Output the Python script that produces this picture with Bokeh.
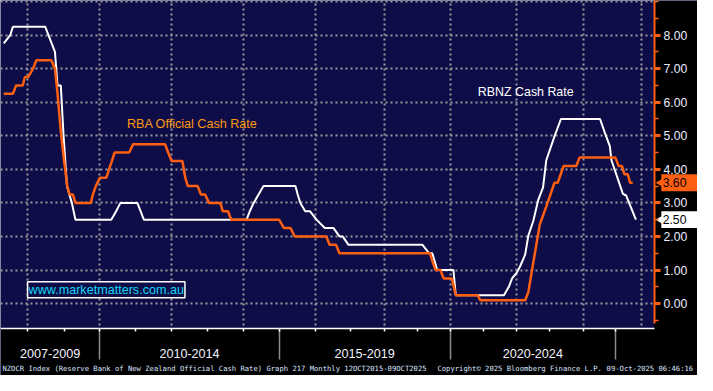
import math
from bokeh.plotting import figure
from bokeh.models import FixedTicker, Label, Range1d, PrintfTickFormatter, BoxAnnotation
from bokeh.embed import file_html
from bokeh.resources import INLINE

# ---------------- data (decimal years on the chart's time axis, rates in %) ----------------
rbnz_t = [2007.094, 2007.284, 2007.361, 2008.298, 2008.582, 2008.656, 2008.752, 2008.832, 2008.931,
          2009.073, 2009.178, 2010.218, 2010.360, 2010.485, 2010.976, 2011.166, 2014.149, 2014.242,
          2014.356, 2014.498, 2014.640, 2015.569, 2015.634, 2015.711, 2015.853, 2015.995, 2016.182,
          2016.421, 2016.676, 2016.847, 2016.940, 2017.111, 2019.261, 2019.448, 2019.545, 2019.687,
          2020.159, 2020.226, 2021.627, 2021.769, 2021.863, 2022.005, 2022.101, 2022.243, 2022.337,
          2022.479, 2022.621, 2022.763, 2022.856, 2023.095, 2023.283, 2024.419, 2024.561, 2024.703,
          2024.751, 2025.083, 2025.177, 2025.461]
rbnz_v = [7.75, 8.00, 8.25, 8.25, 7.50, 6.50, 6.50, 5.00, 3.50, 3.00, 2.50, 2.50, 2.75, 3.00, 3.00,
          2.50, 2.50, 2.75, 3.00, 3.25, 3.50, 3.50, 3.25, 3.00, 2.75, 2.75, 2.50, 2.25, 2.25, 2.00,
          2.00, 1.75, 1.75, 1.50, 1.50, 1.00, 1.00, 0.25, 0.25, 0.50, 0.75, 0.93, 1.12, 1.46, 2.03,
          2.46, 3.08, 3.46, 4.27, 4.98, 5.50, 5.50, 5.08, 4.69, 4.27, 3.27, 3.22, 2.50]

rba_t = [2007.094, 2007.361, 2007.454, 2007.645, 2007.710, 2007.804, 2007.946, 2008.042, 2008.477,
         2008.582, 2008.656, 2008.752, 2008.846, 2008.940, 2009.008, 2009.102, 2009.178, 2009.621,
         2009.684, 2009.769, 2009.888, 2010.076, 2010.153, 2010.238, 2010.314, 2010.740, 2010.854,
         2011.780, 2011.871, 2011.970, 2012.283, 2012.368, 2012.444, 2012.728, 2012.822, 2012.944,
         2013.058, 2013.390, 2013.456, 2013.609, 2013.703, 2015.094, 2015.236, 2015.427, 2015.549,
         2016.466, 2016.563, 2016.750, 2016.847, 2019.477, 2019.553, 2019.638, 2019.781, 2019.874,
         2020.113, 2020.226, 2020.868, 2020.936, 2022.243, 2022.337, 2022.479, 2022.669, 2022.856,
         2023.095, 2023.189, 2023.360, 2023.729, 2023.822, 2024.865, 2024.958, 2025.055, 2025.128,
         2025.225, 2025.290, 2025.367]
rba_v = [6.25, 6.25, 6.50, 6.50, 6.75, 6.75, 7.00, 7.25, 7.25, 7.00, 6.27, 5.12, 4.27, 3.50, 3.25,
         3.25, 3.00, 3.00, 3.25, 3.50, 3.75, 3.75, 4.00, 4.25, 4.50, 4.50, 4.75, 4.75, 4.50, 4.25,
         4.25, 3.75, 3.50, 3.50, 3.25, 3.25, 3.00, 3.00, 2.75, 2.75, 2.50, 2.50, 2.25, 2.25, 2.00,
         2.00, 1.75, 1.75, 1.50, 1.50, 1.25, 1.00, 1.00, 0.75, 0.75, 0.25, 0.25, 0.10, 0.10, 0.35,
         1.22, 2.36, 2.89, 3.60, 3.60, 4.10, 4.10, 4.35, 4.35, 4.10, 4.10, 3.85, 3.85, 3.60, 3.60]

year_ticks = [2007.787, 2008.846, 2009.888, 2010.919, 2011.970, 2013.021, 2014.072, 2015.094,
              2016.145, 2017.182, 2018.162, 2019.127, 2020.064, 2021.030, 2021.996, 2022.961,
              2023.927, 2024.864]
grid_years = [2007.787, 2009.888, 2011.970, 2014.072, 2016.145, 2018.162, 2020.064, 2021.996,
              2023.927, 2025.631]
period_edges = [2007.0, 2009.888, 2015.094, 2020.064, 2024.864]
period_labels = ["2007-2009", "2010-2014", "2015-2019", "2020-2024"]
y_grid = [0, 1, 2, 3, 4, 5, 6, 7, 8, 9]
y_labelled = [0, 1, 2, 3, 4, 5, 6, 7, 8]
y_minor = [-0.5, 0.5, 1.5, 2.5, 3.5, 4.5, 5.5, 6.5, 7.5, 8.5, 9]

footer_left = "NZOCR Index (Reserve Bank of New Zealand Official Cash Rate) Graph 217 Monthly 12OCT2015-09OCT2025"
footer_mid = "Copyright\u00a9 2025 Bloomberg Finance L.P."
footer_right = "09-Oct-2025 06:46:16"

# ---------------- layout constants ----------------
X0, X1 = 2007.0, 2026.0         # plotted time window (value axis sits at X1)
Y0, Y1 = -0.74, 9.03            # plotted value window (time axis sits at Y0)
X_END, Y_END = 2027.25, -2.143  # canvas edges, room for the axis texts

NAVY = "#0f0d48"
ORANGE = "#ff5f10"
TXT = "#e8eeff"
FONT = "Liberation Sans"

p = figure(width=697, height=375,
           x_range=Range1d(X0, X_END), y_range=Range1d(Y_END, Y1),
           output_backend="svg", toolbar_location=None, y_axis_location="right",
           min_border_left=0, min_border_top=0, min_border_right=0, min_border_bottom=0,
           background_fill_color=NAVY, border_fill_color="black", outline_line_color=None)

# grids
p.xgrid.ticker = FixedTicker(ticks=grid_years)
p.ygrid.ticker = FixedTicker(ticks=y_grid)
for g in (p.xgrid[0], p.ygrid[0]):
    g.grid_line_color = "#9a9a9a"
    g.grid_line_width = 2
    g.grid_line_dash = "2 3"

# black margins (cover the grid outside the plotting window)
p.add_layout(BoxAnnotation(left=X1, fill_color="black", fill_alpha=1, line_color=None, level="underlay"))
p.add_layout(BoxAnnotation(top=Y0, fill_color="black", fill_alpha=1, line_color=None, level="underlay"))

# bottom axis (fixed at the bottom of the plotting window)
xa = p.xaxis[0]
xa.fixed_location = Y0
xa.bounds = (X0, X1)
xa.ticker = FixedTicker(ticks=period_edges[1:], minor_ticks=year_ticks)
xa.axis_line_color = "white"
xa.axis_line_width = 1.5
xa.major_tick_in = 0
xa.major_tick_out = 31
xa.major_tick_line_color = "#8c8c8c"
xa.major_tick_line_width = 1.5
xa.minor_tick_in = 0
xa.minor_tick_out = 3
xa.minor_tick_line_color = "white"
xa.minor_tick_line_width = 1.5
xa.major_label_text_color = None

# right axis (fixed at the right of the plotting window)
ya = p.yaxis[0]
ya.fixed_location = X1
ya.bounds = (-0.6, Y1)
ya.ticker = FixedTicker(ticks=y_labelled, minor_ticks=y_minor)
ya.formatter = PrintfTickFormatter(format="%.2f")
ya.axis_line_color = ORANGE
ya.axis_line_width = 2
ya.major_tick_in = 0
ya.major_tick_out = 6
ya.major_tick_line_color = ORANGE
ya.major_tick_line_width = 3
ya.minor_tick_in = 0
ya.minor_tick_out = 4
ya.minor_tick_line_color = ORANGE
ya.minor_tick_line_width = 1.5
ya.major_label_standoff = 3
ya.major_label_text_color = TXT
ya.major_label_text_font = FONT
ya.major_label_text_font_size = "12.2px"

# series
p.line(rbnz_t, rbnz_v, line_color="white", line_width=2)
p.line(rba_t, rba_v, line_color=ORANGE, line_width=2.5)

# in-plot labels
p.add_layout(Label(x=2020.869, y=6.29, text="RBNZ Cash Rate", text_color="white", text_font=FONT,
                   text_font_size="12.4px", text_align="left", text_baseline="middle"))
p.add_layout(Label(x=2010.672, y=5.36, text="RBA Official Cash Rate", text_color="#ff9a10",
                   text_font=FONT, text_font_size="12.6px", text_align="left", text_baseline="middle"))
p.add_layout(Label(x=2007.787, y=0.41, text="www.marketmatters.com.au", text_color="#12d8f5",
                   text_font=FONT, text_font_size="12.6px", text_align="left", text_baseline="middle",
                   border_line_color="white", border_line_width=1.5, background_fill_color=NAVY,
                   padding=1))

# period labels under the axis
for i, lab in enumerate(period_labels):
    mid = (period_edges[i] + period_edges[i + 1]) / 2
    p.add_layout(Label(x=mid, y=-1.494, text=lab, text_color="#f4f4ff", text_font=FONT,
                       text_font_size="12.6px", text_align="center", text_baseline="middle"))

# last-value tags on the value axis
TAG_X = 2026.199
for val, col in ((rba_v[-1], ORANGE), (rbnz_v[-1], "white")):
    p.scatter([TAG_X], [val], marker="triangle", size=10, angle=math.pi / 2,
              fill_color=col, line_color=None)
    p.add_layout(BoxAnnotation(left=TAG_X, right=X_END, bottom=val - 0.25, top=val + 0.25,
                               fill_color=col, fill_alpha=1, line_color=None))
    p.add_layout(Label(x=TAG_X + 0.04, y=val, text=f"{val:.2f}", text_color="black",
                       text_font=FONT, text_font_size="12.2px",
                       text_align="left", text_baseline="middle"))

# footer
for x, txt in ((2007.057, footer_left), (2019.695, footer_mid), (2024.609, footer_right)):
    p.add_layout(Label(x=x, y=-1.923, text=txt, text_color="#dde5ff", text_font="DejaVu Sans Mono",
                       text_font_size="7.2px", text_align="left", text_baseline="middle"))

open("out.html", "w").write(file_html(p, INLINE))
